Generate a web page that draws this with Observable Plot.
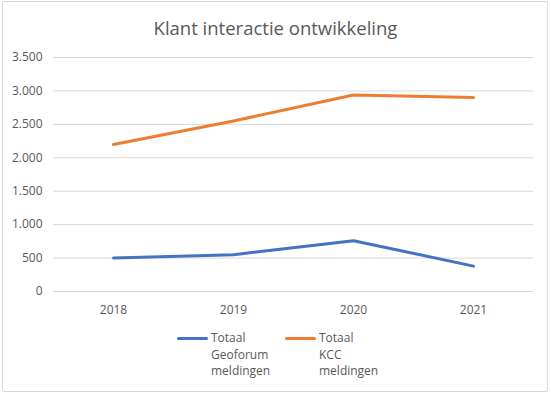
<!DOCTYPE html>
<html>
<head>
<meta charset="utf-8">
<script src="https://cdn.jsdelivr.net/npm/d3@7"></script>
<script src="https://cdn.jsdelivr.net/npm/@observablehq/plot@0.6"></script>
<style>
  body { margin: 0; background: #fff; }
  #wrap { position: relative; width: 551px; height: 395px; overflow: hidden; font-family: "Open Sans", sans-serif; }
  #frame { position: absolute; left: 2px; top: 1px; width: 546px; height: 391px; border: 1px solid #d9d9d9; border-radius: 2px; box-sizing: border-box; }
  #title { position: absolute; left: 0; width: 551px; top: 15px; text-align: center; font-size: 18.5px; color: #595959; }
  #chart { position: absolute; left: 0; top: 0; }
  .leg { position: absolute; font-size: 12px; color: #595959; line-height: 16.5px; }
  .sw { position: absolute; height: 3px; border-radius: 2px; }
</style>
</head>
<body>
<div id="wrap">
  <div id="frame"></div>
  <div id="chart"></div>
  <div id="title">Klant interactie ontwikkeling</div>
  <div id="legend"></div>
</div>
<script>
const years = ["2018", "2019", "2020", "2021"];
const geoforum = [500, 550, 760, 380];
const kcc = [2200, 2550, 2940, 2900];
const seriesNames = ["Totaal Geoforum meldingen", "Totaal KCC meldingen"];
const seriesColors = ["#4472C4", "#ED7D31"];
const yTicks = [0, 500, 1000, 1500, 2000, 2500, 3000, 3500];

const nl = d3.formatLocale({decimal: ",", thousands: ".", grouping: [3], currency: ["€", ""]});
const fmt = nl.format(",");

const rows = [];
years.forEach((y, i) => {
  rows.push({year: y, value: geoforum[i], series: seriesNames[0]});
  rows.push({year: y, value: kcc[i], series: seriesNames[1]});
});

const plot = Plot.plot({
  width: 551,
  height: 395,
  marginLeft: 53,
  marginRight: 18,
  marginTop: 57,
  marginBottom: 104,
  style: {fontFamily: "'Open Sans', sans-serif", fontSize: "12px", color: "#595959", background: "transparent"},
  x: {type: "point", domain: years, padding: 0.5, label: null, tickSize: 0, tickPadding: 14},
  y: {domain: [0, 3500], ticks: yTicks, tickFormat: fmt, label: null, tickSize: 0, tickPadding: 11},
  color: {domain: seriesNames, range: seriesColors},
  marks: [
    Plot.gridY(yTicks, {stroke: "#d9d9d9", strokeOpacity: 1, strokeWidth: 1}),
    Plot.axisY({ticks: yTicks, tickFormat: fmt, tickSize: 0, tickPadding: 11, label: null, fill: "#595959"}),
    Plot.axisX({tickSize: 0, tickPadding: 14, label: null, fill: "#595959"}),
    Plot.lineY(rows, {x: "year", y: "value", z: "series", stroke: "series", strokeWidth: 3, strokeLinecap: "round", strokeLinejoin: "round"})
  ]
});
document.getElementById("chart").appendChild(plot);

const legend = document.getElementById("legend");
const legPos = [{sx: 177, tx: 211}, {sx: 285, tx: 319}];
seriesNames.forEach((name, i) => {
  const sw = document.createElement("div");
  sw.className = "sw";
  sw.style.left = legPos[i].sx + "px";
  sw.style.top = "337px";
  sw.style.width = "31px";
  sw.style.background = seriesColors[i];
  legend.appendChild(sw);
  const t = document.createElement("div");
  t.className = "leg";
  t.style.left = legPos[i].tx + "px";
  t.style.top = "330px";
  t.innerHTML = name.split(" ").join("<br>");
  legend.appendChild(t);
});
</script>
</body>
</html>
